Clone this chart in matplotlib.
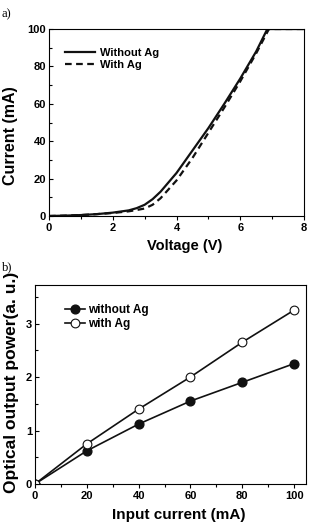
import matplotlib
matplotlib.use("Agg")
import matplotlib.pyplot as plt
from matplotlib.ticker import MultipleLocator

plt.rcParams['font.family'] = ['Liberation Sans', 'DejaVu Sans']
plt.rcParams['font.weight'] = 'bold'

# Panel a) I-V curves
voltage_wo = [0, 0.5, 1.0, 1.5, 2.0, 2.5, 2.75, 3.0, 3.25, 3.5, 4.0, 4.5, 5.0, 5.5, 6.0, 6.5, 6.85, 7.0, 8.0]
current_wo = [0, 0.2, 0.5, 1.0, 1.8, 3.0, 4.2, 6.0, 9.0, 13.0, 23.0, 35.0, 47.0, 60.0, 73.5, 88.0, 100, 100, 100]
voltage_w = [0, 0.5, 1.0, 1.5, 2.0, 2.5, 2.75, 3.0, 3.25, 3.5, 4.0, 4.5, 5.0, 5.5, 6.0, 6.5, 6.9, 7.0, 8.0]
current_w = [0, 0.2, 0.5, 1.0, 1.6, 2.5, 3.2, 4.0, 6.0, 9.5, 19.0, 31.0, 44.5, 58.0, 72.0, 87.0, 100, 100, 100]

# Panel b) L-I
input_current = [0, 20, 40, 60, 80, 100]
power_wo = [0, 0.62, 1.12, 1.55, 1.90, 2.25]
power_w = [0, 0.75, 1.40, 2.00, 2.65, 3.25]

W, H = 311, 525
fig = plt.figure(figsize=(W / 100, H / 100), dpi=100)

def px_axes(l, t, r, b):
    return fig.add_axes([l / W, (H - b) / H, (r - l) / W, (b - t) / H])

def style(ax):
    ax.tick_params(which='both', top=False, right=False, labelsize=8, width=0.8)
    ax.tick_params(axis='x', which='both', direction='out')
    ax.tick_params(axis='y', which='both', direction='in')
    ax.tick_params(which='major', length=3, pad=2)
    ax.tick_params(which='minor', length=2)
    for s in ax.spines.values():
        s.set_linewidth(0.8)
    for lab in ax.get_xticklabels() + ax.get_yticklabels():
        lab.set_fontweight('bold')

ax1 = px_axes(49, 29, 304, 216)
ax1.plot(voltage_wo, current_wo, color='#111111', lw=1.6, label='Without Ag')
ax1.plot(voltage_w, current_w, color='#111111', lw=1.6, ls=(0, (3, 2)), label='With Ag')
ax1.set_xlim(0, 8)
ax1.set_ylim(0, 100)
ax1.xaxis.set_major_locator(MultipleLocator(2))
ax1.xaxis.set_minor_locator(MultipleLocator(1))
ax1.yaxis.set_major_locator(MultipleLocator(20))
ax1.yaxis.set_minor_locator(MultipleLocator(10))
ax1.set_xlabel('Voltage (V)', fontsize=10.5, fontweight='bold')
ax1.set_ylabel('Current (mA)', fontsize=11.5, fontweight='bold')
ax1.xaxis.set_label_coords(0.533, -0.123)
ax1.yaxis.set_label_coords(-0.122, 0.43)
style(ax1)
ax1.legend(loc='upper left', bbox_to_anchor=(0.063, 0.897), frameon=False,
           borderpad=0, borderaxespad=0,
           handlelength=2.7, handletextpad=0.45, labelspacing=0.15,
           prop={'weight': 'bold', 'size': 8})

ax2 = px_axes(35, 285, 306, 484)
ax2.plot(input_current, power_wo, color='#111111', lw=1.2, marker='o', ms=6.3,
         mfc='#111111', mec='#111111', label='without Ag')
ax2.plot(input_current, power_w, color='#111111', lw=1.2, marker='o', ms=6.3,
         mfc='white', mec='#111111', mew=0.8, label='with Ag')
ax2.set_xlim(0, 104.6)
ax2.set_ylim(0, 3.72)
ax2.xaxis.set_major_locator(MultipleLocator(20))
ax2.xaxis.set_minor_locator(MultipleLocator(10))
ax2.yaxis.set_major_locator(MultipleLocator(1))
ax2.yaxis.set_minor_locator(MultipleLocator(0.5))
ax2.set_xlabel('Input current (mA)', fontsize=11, fontweight='bold')
ax2.set_ylabel('Optical output power(a. u.)', fontsize=12.5, fontweight='bold')
ax2.xaxis.set_label_coords(0.53, -0.12)
ax2.yaxis.set_label_coords(-0.06, 0.51)
style(ax2)
ax2.legend(loc='upper left', bbox_to_anchor=(0.111, 0.905), frameon=False,
           borderpad=0, borderaxespad=0,
           handlelength=1.7, handletextpad=0.25, labelspacing=0.15,
           prop={'weight': 'bold', 'size': 8.5})

fig.text(2 / W, 1 - 17 / H, 'a)', fontsize=9, family='Liberation Serif', weight='normal')
fig.text(2 / W, 1 - 270 / H, 'b)', fontsize=9, family='Liberation Serif', weight='normal')

fig.savefig('out.png', dpi=100)
